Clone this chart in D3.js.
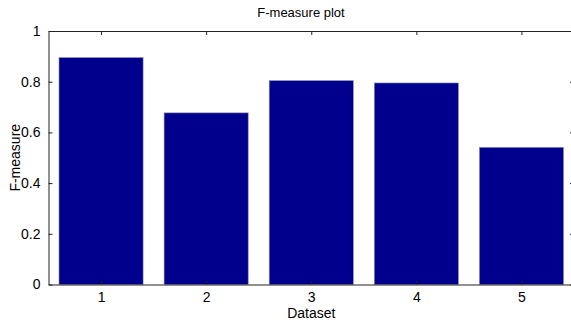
<!DOCTYPE html>
<html>
<head>
<meta charset="utf-8">
<script src="https://cdn.jsdelivr.net/npm/d3@7"></script>
<style>
  body { margin: 0; background: #fff; }
  svg { display: block; font-family: "Liberation Sans", Arial, sans-serif; }
</style>
</head>
<body>
<svg id="chart" width="571" height="320"></svg>
<script>
const datasets = [1, 2, 3, 4, 5];
const fmeasure = [0.895, 0.677, 0.804, 0.795, 0.541];
const yTicks = [0, 0.2, 0.4, 0.6, 0.8, 1];

const width = 571, height = 320;
const margin = { top: 31, right: -3, bottom: 35.5, left: 48.5 };

const svg = d3.select("#chart");

const x = d3.scaleLinear()
  .domain([0.5, 5.5])
  .range([margin.left, width - margin.right]);
const y = d3.scaleLinear()
  .domain([0, 1])
  .range([height - margin.bottom, margin.top]);

const barW = 0.8;

// bars
svg.append("g")
  .selectAll("rect")
  .data(datasets)
  .join("rect")
  .attr("x", (d) => x(d - barW / 2))
  .attr("width", (d) => x(d + barW / 2) - x(d - barW / 2))
  .attr("y", (d, i) => y(fmeasure[i]))
  .attr("height", (d, i) => y(0) - y(fmeasure[i]))
  .attr("fill", "#00008c")
  .attr("stroke", "#8a8aa8")
  .attr("stroke-width", 0.6);

const styleAxis = (g) => {
  g.selectAll(".domain").attr("stroke", "#222");
  g.selectAll(".tick line").attr("stroke", "#222");
  g.selectAll("text")
    .attr("font-family", "Liberation Sans, Arial, sans-serif")
    .attr("font-size", 14)
    .attr("fill", "#000");
};

// bottom axis, ticks inside
svg.append("g")
  .attr("transform", `translate(0,${y(0)})`)
  .call(d3.axisBottom(x).tickValues(datasets).tickFormat(d3.format("d"))
    .tickSizeInner(-4).tickSizeOuter(0).tickPadding(8))
  .call(styleAxis);

// top axis
svg.append("g")
  .attr("transform", `translate(0,${y(1)})`)
  .call(d3.axisTop(x).tickValues(datasets).tickFormat("")
    .tickSizeInner(-4).tickSizeOuter(0))
  .call(styleAxis);

// left axis
svg.append("g")
  .attr("transform", `translate(${x(0.5)},0)`)
  .call(d3.axisLeft(y).tickValues(yTicks).tickFormat((d) => d3.format("")(d))
    .tickSizeInner(-4).tickSizeOuter(0).tickPadding(8))
  .call(styleAxis);

// right axis
svg.append("g")
  .attr("transform", `translate(${x(5.5)},0)`)
  .call(d3.axisRight(y).tickValues(yTicks).tickFormat("")
    .tickSizeInner(-4).tickSizeOuter(0))
  .call(styleAxis);

// title and labels
svg.append("text")
  .attr("x", 301)
  .attr("y", 17)
  .attr("text-anchor", "middle")
  .attr("font-size", 13)
  .text("F-measure plot");

svg.append("text")
  .attr("x", x(3))
  .attr("y", 318)
  .attr("text-anchor", "middle")
  .attr("font-size", 14)
  .text("Dataset");

svg.append("text")
  .attr("transform", `translate(20,${(y(0) + y(1)) / 2}) rotate(-90)`)
  .attr("text-anchor", "middle")
  .attr("font-size", 14)
  .text("F-measure");
</script>
</body>
</html>
